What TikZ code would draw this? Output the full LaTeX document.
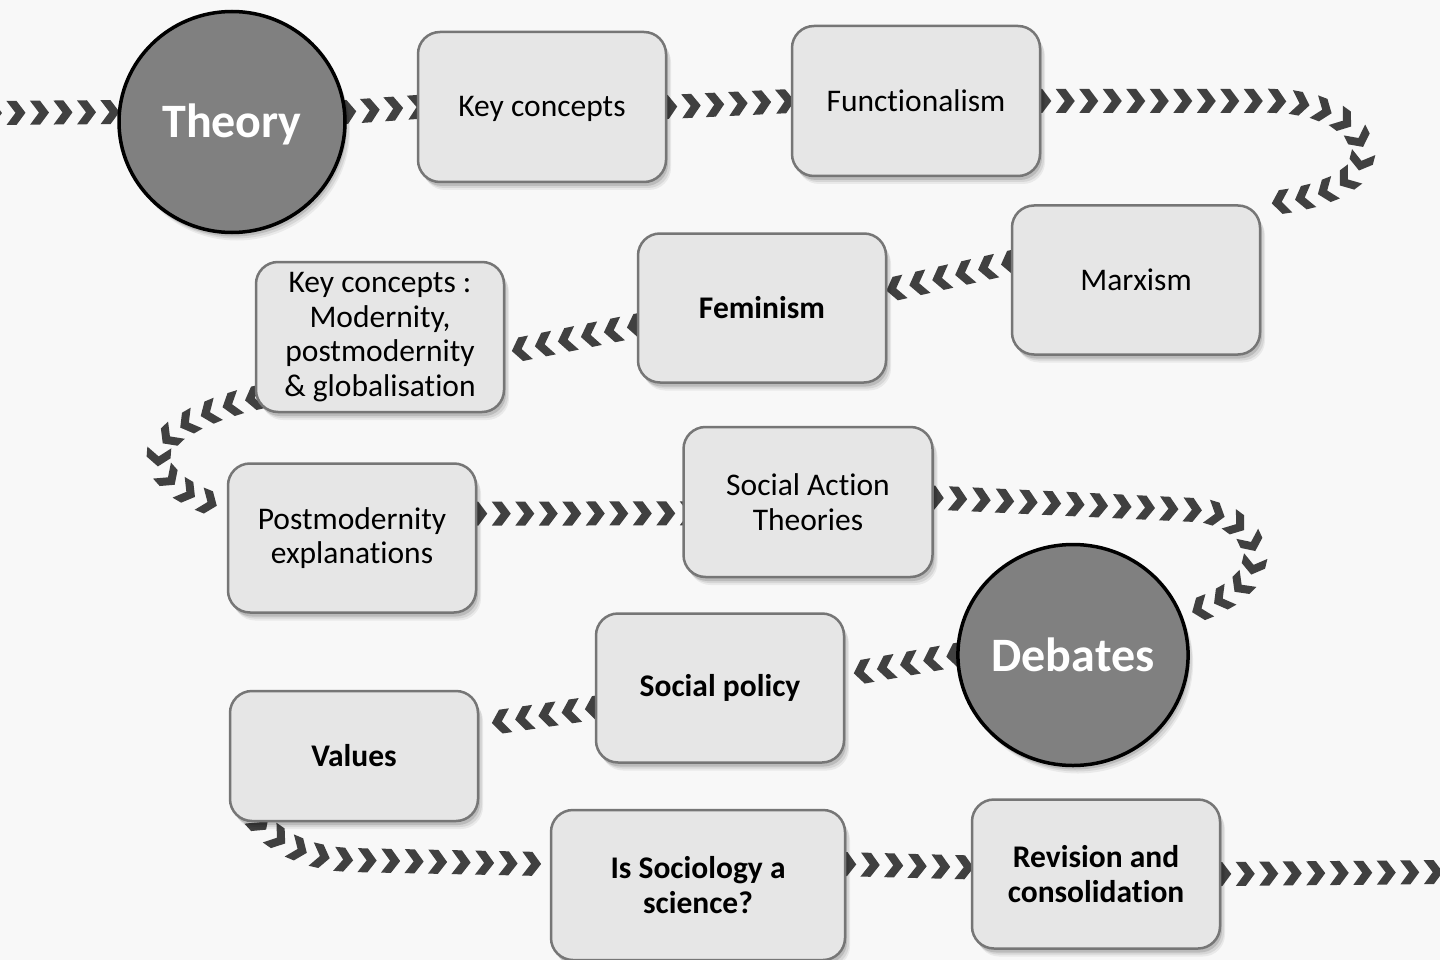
\documentclass[tikz,border=0pt]{standalone}
\usepackage{fontspec}
\setmainfont{Carlito}[Ligatures=NoCommon]
\usetikzlibrary{shapes.geometric,decorations.markings,shadows,backgrounds}

\definecolor{chevc}{HTML}{404040}
\definecolor{boxfill}{HTML}{E6E6E6}
\definecolor{boxline}{HTML}{767676}
\definecolor{circfill}{HTML}{808080}
\definecolor{bgc}{HTML}{F8F8F8}

\tikzset{
  softshadow/.style={
    drop shadow={shadow xshift=5pt, shadow yshift=-8pt, opacity=0.06, fill=black},
    drop shadow={shadow xshift=4pt, shadow yshift=-6pt, opacity=0.08, fill=black},
    drop shadow={shadow xshift=2pt, shadow yshift=-4pt, opacity=0.12, fill=black}},
  stepbox/.style={draw=boxline, line width=2.5pt, fill=boxfill, rounded corners=22pt,
    minimum width=248pt, minimum height=150pt, align=center, inner sep=0pt,
    font=\fontsize{31.5}{34.5}\selectfont, softshadow},
  boldbox/.style={stepbox, font=\fontsize{31.5}{34.5}\selectfont\bfseries},
  phase/.style={ellipse, draw=black, line width=3.5pt, fill=circfill,
    minimum width=226pt, minimum height=221pt, inner sep=0pt, text=white,
    font=\fontsize{48}{52}\selectfont\bfseries, softshadow},
  chevpath/.style={decorate, decoration={markings,
    mark=between positions 0 and 1 step 23.5pt with {
      \fill[chevc] (-9pt,-12pt) -- (1pt,-12pt) -- (10pt,0pt) -- (1pt,12pt) -- (-9pt,12pt) -- (0pt,0pt) -- cycle;}}}
}

\begin{document}
\begin{tikzpicture}[x=1pt,y=-1pt]
\useasboundingbox (0,0) rectangle (1440,960);
\begin{pgfonlayer}{background}
  \fill[bgc] (0,0) rectangle (1440,960);
\end{pgfonlayer}

% nodes
\node[phase, text height=42pt, text depth=10pt] (theory) at (232,122) {Theory};
\node[stepbox, text height=26.5pt, text depth=6.5pt] (key1) at (542,107) {Key concepts};
\node[stepbox] (func) at (916,101) {Functionalism};
\node[stepbox, minimum height=149pt] (marx) at (1136,280) {Marxism};
\node[boldbox, minimum height=149pt] (fem) at (762,308) {Feminism};
\node[stepbox] (keymod) at (380,337) {Key concepts :\\Modernity,\\postmodernity\\\& globalisation};
\node[stepbox, minimum height=149pt] (postmod) at (352,538) {Postmodernity\\explanations};
\node[stepbox, minimum width=249pt] (sat) at (808,502) {Social Action\\Theories};
\node[phase] (debates) at (1073,655) {Debates};
\node[boldbox, minimum height=149pt] (socpol) at (720,688) {Social policy};
\node[boldbox, minimum height=130pt] (values) at (354,756) {Values};
\node[boldbox, minimum width=294pt] (sci) at (698,885) {Is Sociology a\\science?};
\node[boldbox, minimum height=149pt] (rev) at (1096,874) {Revision and\\consolidation};

\coordinate (inL) at (-8,113);
\coordinate (outR) at (1450,872);

\begin{pgfonlayer}{background}
  \path[chevpath] (inL) -- (theory.175);
  \path[chevpath] (theory.5) -- (key1.west);
  \path[chevpath] (key1.east) -- (func.west);
  \path[chevpath] (func.east) -- (1275,101) .. controls (1330,103) and (1366,128) .. (1362,158)
       .. controls (1358,186) and (1310,200) .. (marx.north east);
  \path[chevpath] (marx.172) -- (fem.8);
  \path[chevpath] (fem.188) -- (keymod.353);
  \path[chevpath] (keymod.206) .. controls (195,412) and (150,440) .. (160,465)
       .. controls (170,488) and (200,500) .. (postmod.167);
  \path[chevpath] (postmod.11) -- (sat.355);
  \path[chevpath] (sat.2) -- (1195,510) .. controls (1238,514) and (1258,540) .. (1254,563)
       .. controls (1249,590) and (1212,606) .. (debates.20);
  \path[chevpath] (debates.180) -- (socpol.6);
  \path[chevpath] (socpol.189) -- (values.14);
  \path[chevpath] (values.215) .. controls (280,845) and (310,858) .. (350,860) -- (sci.172);
  \path[chevpath] (sci.8) -- (rev.177);
  \path[chevpath] (rev.east) -- (outR);
\end{pgfonlayer}
\end{tikzpicture}
\end{document}
